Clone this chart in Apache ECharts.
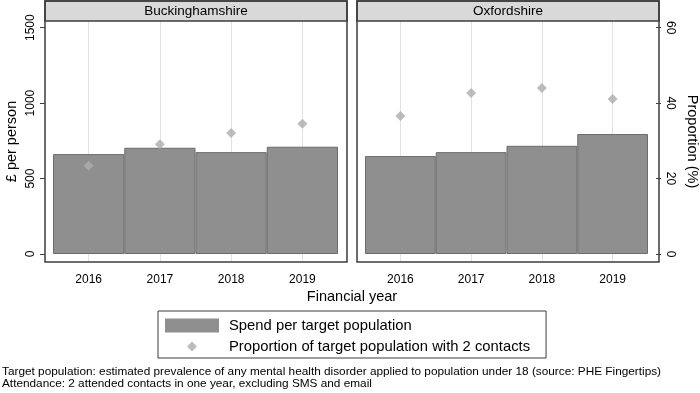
<!DOCTYPE html>
<html>
<head>
<meta charset="utf-8">
<script src="https://cdn.jsdelivr.net/npm/echarts@6/dist/echarts.min.js"></script>
<style>
  html, body { margin: 0; padding: 0; background: #fff; }
  #chart { width: 700px; height: 393px; }
</style>
</head>
<body>
<div id="chart"></div>
<script>
// data
const years = ['2016', '2017', '2018', '2019'];
const panels = ['Buckinghamshire', 'Oxfordshire'];
const bucksSpend = [662, 704, 675, 711];
const bucksProp = [23.4, 29.1, 32.1, 34.5];
const oxonSpend = [649, 675, 717, 795];
const oxonProp = [36.6, 42.7, 44.0, 41.1];
const spendTicks = [0, 500, 1000, 1500];
const propTicks = [0, 20, 40, 60];

const FONT = '"Liberation Sans", Arial, sans-serif';
const BAR = '#8f8f8f';
const DOT = '#adadad';
const BOX = '#3c3c3c';

// both panels share these scales (spend : prop = 25 : 1)
const spendMin = -53, spendMax = 1544;
const propMin = spendMin / 25, propMax = spendMax / 25;

const grids = [
  { left: 53, width: 285, top: 21, bottom: 131 },
  { left: 365, width: 286, top: 21, bottom: 131 },
];

const xAxes = grids.map((g, i) => ({
  type: 'category',
  gridIndex: i,
  data: years,
  axisLine: { show: false },
  axisTick: { alignWithLabel: true, length: 4, lineStyle: { color: '#999' } },
  axisLabel: { fontFamily: FONT, fontSize: 12, color: '#000', margin: 12 },
  splitLine: { show: false },
}));

const spendAxis = (i, show) => ({
  type: 'value',
  gridIndex: i,
  position: 'left',
  offset: 8,
  min: spendMin,
  max: spendMax,
  show,
  name: show ? '£ per person' : '',
  nameLocation: 'middle',
  nameRotate: 90,
  nameGap: 26,
  nameTextStyle: { fontFamily: FONT, fontSize: 14.5, color: '#000' },
  axisLine: { show: false },
  axisTick: { show: true, length: 5, customValues: spendTicks, lineStyle: { color: BOX } },
  axisLabel: {
    customValues: spendTicks, rotate: 90, margin: 8,
    formatter: (v) => String(v),
    fontFamily: FONT, fontSize: 12, color: '#000',
  },
  splitLine: { show: false },
});

const propAxis = (i, show) => ({
  type: 'value',
  gridIndex: i,
  position: 'right',
  offset: 8,
  min: propMin,
  max: propMax,
  show,
  name: show ? 'Proportion (%)' : '',
  nameLocation: 'middle',
  nameRotate: -90,
  nameGap: 28,
  nameTextStyle: { fontFamily: FONT, fontSize: 14.5, color: '#000' },
  axisLine: { show: false },
  axisTick: { show: true, length: 5, customValues: propTicks, lineStyle: { color: BOX } },
  axisLabel: {
    customValues: propTicks, rotate: -90, margin: 8,
    formatter: (v) => String(v),
    fontFamily: FONT, fontSize: 12, color: '#000',
  },
  splitLine: { show: false },
});

const yAxes = [
  spendAxis(0, true), propAxis(0, false),
  spendAxis(1, false), propAxis(1, true),
];

// light vertical guides at each year, kept behind the bars
const vlines = (i) => ({
  type: 'line',
  xAxisIndex: i,
  yAxisIndex: i * 2,
  data: [],
  z: 0,
  silent: true,
  markLine: {
    z: 0,
    symbol: 'none',
    silent: true,
    label: { show: false },
    lineStyle: { color: '#e2e2e2', type: 'solid', width: 1 },
    data: years.map((y) => ({ xAxis: y })),
  },
});

const barSeries = (i, data) => ({
  name: 'Spend per target population',
  type: 'bar',
  xAxisIndex: i,
  yAxisIndex: i * 2,
  data,
  barCategoryGap: '0%',
  itemStyle: { color: BAR, borderColor: '#6c6c6c', borderWidth: 1 },
  z: 2,
});

const dotSeries = (i, data) => ({
  name: 'Proportion of target population with 2 contacts',
  type: 'scatter',
  xAxisIndex: i,
  yAxisIndex: i * 2 + 1,
  data,
  symbol: 'diamond',
  symbolSize: 10,
  itemStyle: { color: DOT },
  z: 3,
});

// panel frames and header strips
const boxes = [45, 357];
const graphic = [];
boxes.forEach((x, i) => {
  graphic.push({
    type: 'rect', shape: { x, y: 1, width: 302, height: 261 },
    style: { fill: 'none', stroke: BOX, lineWidth: 1.5 }, z: 10,
  });
  graphic.push({
    type: 'rect', shape: { x, y: 1, width: 302, height: 20 },
    style: { fill: '#d9d9d9', stroke: BOX, lineWidth: 1.5 }, z: 9,
  });
  graphic.push({
    type: 'text', x: x + 151, y: 11, z: 11,
    style: {
      text: panels[i], fontFamily: FONT, fontSize: 13.5, fill: '#000',
      textAlign: 'center', textVerticalAlign: 'middle',
    },
  });
});
graphic.push({
  type: 'text', x: 352, y: 297,
  style: {
    text: 'Financial year', fontFamily: FONT, fontSize: 14.5, fill: '#000',
    textAlign: 'center', textVerticalAlign: 'middle',
  },
});
graphic.push({
  type: 'text', x: 2, y: 366,
  style: {
    text: 'Target population: estimated prevalence of any mental health disorder applied to population under 18 (source: PHE Fingertips)\nAttendance: 2 attended contacts in one year, excluding SMS and email',
    fontFamily: FONT, fontSize: 11.8, lineHeight: 11.5, fill: '#000',
  },
});

// small diamond centred in the wide legend slot (corner points keep it unstretched)
const legendDiamond = 'path://M0,0 L0,0 M54,14 L54,14 M27,2 L32,7 L27,12 L22,7 Z';

const chart = echarts.init(document.getElementById('chart'));
chart.setOption({
  animation: false,
  textStyle: { fontFamily: FONT },
  grid: grids,
  xAxis: xAxes,
  yAxis: yAxes,
  legend: {
    left: 158,
    top: 311,
    orient: 'vertical',
    itemWidth: 54,
    itemHeight: 14,
    itemGap: 6,
    padding: [7, 16, 4, 7],
    borderColor: BOX,
    borderWidth: 1,
    textStyle: { fontFamily: FONT, fontSize: 14.8, color: '#000', padding: [0, 0, 0, 5] },
    data: [
      { name: 'Spend per target population', icon: 'rect', itemStyle: { borderWidth: 0 } },
      { name: 'Proportion of target population with 2 contacts', icon: legendDiamond },
    ],
  },
  graphic,
  series: [
    vlines(0), vlines(1),
    barSeries(0, bucksSpend), barSeries(1, oxonSpend),
    dotSeries(0, bucksProp), dotSeries(1, oxonProp),
  ],
});
</script>
</body>
</html>
